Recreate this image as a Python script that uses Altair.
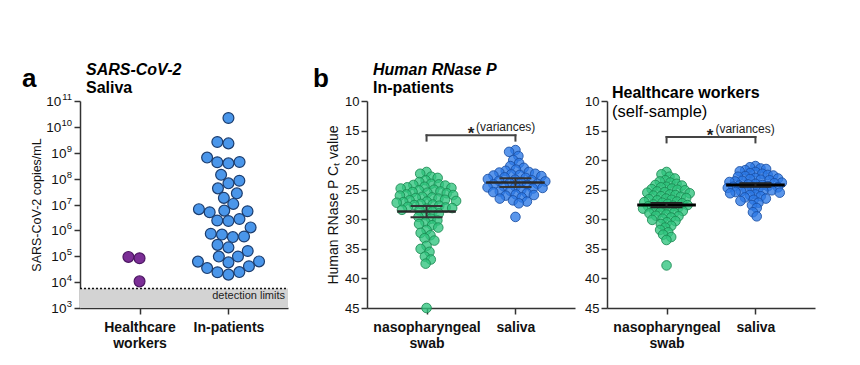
import math
import altair as alt
import pandas as pd

# ---------------- data ----------------
a_groups = ["Healthcare workers", "In-patients"]
a_hcw = [9.4e4, 8.4e4, 1.07e4]
a_inpatients = [2.2e10, 2.6e9, 2.3e9, 6.5e8, 4.4e8, 4.3e8, 3.9e8, 1.4e8, 8.3e7,
                6.6e7, 4.2e7, 2.7e7, 1.8e7, 1.05e7, 6.6e6, 5.8e6, 5.5e6, 5.0e6,
                2.75e6, 2.4e6, 2.3e6, 1.3e6, 7.4e5, 6.9e5, 5.8e5, 5.5e5, 2.75e5,
                2.2e5, 1.6e5, 9.8e4, 9.7e4, 6.3e4, 6.2e4, 5.8e4, 4.1e4, 3.5e4,
                2.45e4, 2.4e4, 1.95e4]
a_detection_limit = 5.7e3
a_label_pos = 2.8e3
a_exponents = [3, 4, 5, 6, 7, 8, 9, 10, 11]

b_categories = ["nasopharyngeal swab", "saliva"]
b_y_ticks = [10, 15, 20, 25, 30, 35, 40, 45]

b1_naso = [22.0, 22.3, 22.8, 23.0, 23.4, 23.7,
           24.0, 24.1, 24.2, 24.3, 24.5, 24.6, 24.7, 24.8, 25.0, 25.1, 25.3,
           25.4, 25.5, 25.6, 25.8, 25.9, 26.0, 26.2, 26.3, 26.4, 26.5, 26.7,
           26.8, 26.9, 27.0, 27.1, 27.2, 27.4, 27.5, 27.6, 27.7, 27.9, 28.0,
           28.1, 28.2, 28.4, 28.5,
           28.7, 29.0, 29.3, 29.6, 29.9, 30.2, 30.5, 30.8, 31.0,
           31.4, 31.8, 32.3, 32.7, 33.2, 33.6,
           34.5, 35.0, 35.5, 36.3, 36.8, 37.5,
           45.0]
b1_saliva = [18.3, 18.6, 19.3, 20.0, 20.5, 21.0, 21.3,
             21.6, 21.8, 22.0, 22.1, 22.3, 22.4, 22.5, 22.6, 22.7, 22.9, 23.0,
             23.2, 23.3, 23.4, 23.5, 23.6, 23.8, 23.9, 24.0, 24.1, 24.2, 24.4,
             24.5, 24.6, 24.7, 24.8, 25.0, 25.2, 25.3, 25.4, 25.6, 25.8, 25.9,
             26.0,
             26.3, 26.5, 26.8, 27.0, 27.3,
             29.6]
b1_mean = [28.7, 23.8]
b1_err = [0.95, 0.75]
b1_bracket = [15.8, 16.7]
b1_star = [1.5, 16.45]
b1_note = [1.556, 15.1]

b2_naso = [22.0, 22.4, 22.8, 23.1, 23.4, 23.6, 23.8, 24.0, 24.2, 24.3, 24.5,
           24.6, 24.8, 24.9, 25.0, 25.1, 25.3, 25.4, 25.5, 25.6, 25.8, 25.9,
           26.0, 26.1, 26.2, 26.4, 26.5, 26.6, 26.7, 26.8, 27.0, 27.1, 27.2,
           27.3, 27.4, 27.5, 27.6, 27.7, 27.8, 27.9, 28.0, 28.1, 28.2, 28.4,
           28.5, 28.6, 28.8, 28.9, 29.0, 29.2, 29.4, 29.5, 29.7, 29.9, 30.1,
           30.3, 30.5, 30.8, 31.1, 31.4, 31.8, 32.2, 32.6, 33.0, 33.5, 37.8]
b2_saliva = [21.0, 21.2, 21.4, 21.5, 21.7, 21.9, 22.0, 22.2, 22.3, 22.5, 22.6,
             22.7, 22.8, 23.0, 23.1, 23.2, 23.3, 23.4, 23.5, 23.6, 23.7, 23.8,
             23.9, 24.0, 24.1, 24.2, 24.3, 24.4, 24.5, 24.6, 24.7, 24.8, 24.9,
             25.0, 25.1, 25.2, 25.3, 25.4, 25.5, 25.6, 25.8, 25.9, 26.1, 26.3,
             26.5, 26.7, 26.9, 27.2, 27.6, 28.1, 28.8, 29.5]
b2_mean = [27.6, 24.2]
b2_err = [0.35, 0.3]
b2_bracket = [16.1, 17.0]
b2_star = [1.49, 16.8]
b2_note = [1.55, 15.45]

# ---------------- layout constants ----------------
W, H = 208, 207
X0, X1 = 0.33, 2.67
FONT = "Liberation Sans"
PX_X = W / (X1 - X0)


def swarm(values, px_per_y, dist, log=False):
    """Beeswarm offsets (x units) so that markers do not overlap more than dist."""
    ys = [(math.log10(v) if log else v) * px_per_y for v in values]
    order = sorted(range(len(values)), key=lambda i: ys[i])
    placed, offs = [], [0.0] * len(values)
    for i in order:
        y = ys[i]
        cands = [0.0]
        for (px, py) in placed:
            dy = abs(py - y)
            if dy < dist:
                dx = math.sqrt(dist * dist - dy * dy)
                cands.extend([px + dx, px - dx])
        cands.sort(key=lambda c: (round(abs(c), 6), c))
        chosen = 0.0
        for c in cands:
            if all((c - px) ** 2 + (y - py) ** 2 >= dist * dist - 1e-6 for px, py in placed):
                chosen = c
                break
        placed.append((chosen, y))
        offs[i] = chosen / PX_X
    return offs


def label_text(txt, x, y, size, weight="bold", style="normal"):
    return alt.Chart(pd.DataFrame({"t": [txt]})).mark_text(
        align="left", baseline="alphabetic", fontSize=size, fontWeight=weight, fontStyle=style,
        font=FONT, color="#000").encode(x=alt.value(x), y=alt.value(y), text="t:N")


x_scale = alt.Scale(domain=[X0, X1], nice=False, zero=False)

# ---------------- panel a ----------------
rows = []
for gi, (g, vals) in enumerate([(a_groups[0], a_hcw), (a_groups[1], a_inpatients)]):
    offs = swarm(vals, H / 8.0, 11.2, log=True)
    for v, o in zip(vals, offs):
        rows.append({"group": g, "value": v, "xpos": gi + 1 + o})
df_a = pd.DataFrame(rows)

ya_scale = alt.Scale(type="log", domain=[1e3, 1e11], nice=False)
xa_axis = alt.Axis(values=[1, 2], title=None, grid=False,
                   labelExpr="datum.value == 1 ? ['Healthcare', 'workers'] : 'In-patients'")
ya_axis = alt.Axis(values=[10.0 ** e for e in a_exponents], labels=False,
                   title="SARS-CoV-2 copies/mL", grid=False, titleFontSize=12.5, titlePadding=30)


def XA(f):
    return alt.X(f, type="quantitative", scale=x_scale, axis=xa_axis)


def YA(f):
    return alt.Y(f, type="quantitative", scale=ya_scale, axis=ya_axis)


band_a = alt.Chart(pd.DataFrame({"x": [X0], "x2": [X1], "y": [1e3], "y2": [a_detection_limit]})).mark_rect(
    color="#d3d3d3").encode(x=XA("x"), x2="x2", y=YA("y"), y2="y2")
rule_a = alt.Chart(pd.DataFrame({"x": [X0], "x2": [X1], "y": [a_detection_limit]})).mark_rule(
    color="#111", strokeDash=[2, 2], strokeWidth=1.6).encode(x=XA("x"), x2="x2", y=YA("y"))
text_a = alt.Chart(pd.DataFrame({"x": [X1], "y": [a_label_pos], "t": ["detection limits"]})).mark_text(
    align="right", baseline="middle", dx=-3, fontSize=11, color="#222", font=FONT).encode(
    x=XA("x"), y=YA("y"), text="t:N")
pts_a = alt.Chart(df_a).mark_circle(size=118, opacity=1, strokeWidth=1.2).encode(
    x=XA("xpos"), y=YA("value"),
    fill=alt.Fill("group:N", scale=alt.Scale(domain=a_groups, range=["#7b2e96", "#4a96ea"]), legend=None),
    stroke=alt.Stroke("group:N", scale=alt.Scale(domain=a_groups, range=["#4d1763", "#1c3d6e"]), legend=None),
)

# y tick labels of panel a drawn as "10" + raised exponent
df_exp = pd.DataFrame({"value": [10.0 ** e for e in a_exponents],
                       "exp": [str(e) for e in a_exponents],
                       "base": ["10"] * len(a_exponents),
                       "two": [e >= 10 for e in a_exponents]})
EXP_R = -8
exp_lbl = alt.Chart(df_exp).mark_text(
    align="right", baseline="middle", dy=-4, fontSize=9.5, font=FONT, color="#111").encode(
    x=alt.value(EXP_R), y=YA("value"), text="exp:N")
base1 = alt.Chart(df_exp).transform_filter("!datum.two").mark_text(
    align="right", baseline="middle", dy=1, fontSize=13.5, font=FONT, color="#111").encode(
    x=alt.value(EXP_R - 5.6), y=YA("value"), text="base:N")
base2 = alt.Chart(df_exp).transform_filter("datum.two").mark_text(
    align="right", baseline="middle", dy=1, fontSize=13.5, font=FONT, color="#111").encode(
    x=alt.value(EXP_R - 10.8), y=YA("value"), text="base:N")

panel_a = alt.layer(
    band_a, rule_a, text_a, pts_a, exp_lbl, base1, base2,
    label_text("a", -58, -14, 26),
    label_text("SARS-CoV-2", 6, -26, 16, style="italic"),
    label_text("Saliva", 6, -8, 16),
).properties(width=W, height=H)

# ---------------- panel b ----------------
yb_scale = alt.Scale(domain=[10, 45], reverse=True, nice=False, zero=False)
xb_axis = alt.Axis(values=[1, 2], title=None, grid=False,
                   labelExpr="datum.value == 1 ? ['nasopharyngeal', 'swab'] : 'saliva'")


def panel_b(naso, sal, means, errs, bracket, star, note, ytitle, dist,
            mean_color, mean_width, err_color, extra):
    yb_axis = alt.Axis(values=b_y_ticks, title=ytitle, grid=False, titleFontSize=14)

    def XB(f):
        return alt.X(f, type="quantitative", scale=x_scale, axis=xb_axis)

    def YB(f):
        return alt.Y(f, type="quantitative", scale=yb_scale, axis=yb_axis)

    rows = []
    for ci, vals in enumerate([naso, sal]):
        offs = swarm(vals, H / 35.0, dist)
        for v, o in zip(vals, offs):
            rows.append({"cat": b_categories[ci], "value": v, "xpos": ci + 1 + o})
    df = pd.DataFrame(rows)
    pts = alt.Chart(df).mark_circle(size=92, strokeWidth=1, fillOpacity=0.78, strokeOpacity=0.85).encode(
        x=XB("xpos"), y=YB("value"),
        fill=alt.Fill("cat:N", scale=alt.Scale(domain=b_categories, range=["#2fc47e", "#2c78e6"]), legend=None),
        stroke=alt.Stroke("cat:N", scale=alt.Scale(domain=b_categories, range=["#1b8a52", "#1a4fa3"]), legend=None),
    )
    dm = pd.DataFrame({"cat": [1, 2], "mean": means, "err": errs})
    dm["lo"] = dm["mean"] - dm["err"]
    dm["hi"] = dm["mean"] + dm["err"]
    dm["ml"] = dm["cat"] - 0.33
    dm["mr"] = dm["cat"] + 0.33
    dm["cl"] = dm["cat"] - 0.18
    dm["cr"] = dm["cat"] + 0.18
    mean_l = alt.Chart(dm).mark_rule(color=mean_color, strokeWidth=mean_width).encode(
        x=XB("ml"), x2="mr", y=YB("mean"))
    err_v = alt.Chart(dm).mark_rule(color=err_color, strokeWidth=2).encode(
        x=XB("cat"), y=YB("lo"), y2="hi")
    cap_lo = alt.Chart(dm).mark_rule(color=err_color, strokeWidth=2).encode(
        x=XB("cl"), x2="cr", y=YB("lo"))
    cap_hi = alt.Chart(dm).mark_rule(color=err_color, strokeWidth=2).encode(
        x=XB("cl"), x2="cr", y=YB("hi"))
    br = pd.DataFrame({"x": [1, 1, 2], "x2": [2, 1, 2],
                       "y": [bracket[0]] * 3, "y2": [bracket[0], bracket[1], bracket[1]]})
    brk = alt.Chart(br).mark_rule(color="#444", strokeWidth=2, strokeCap="square").encode(
        x=XB("x"), x2="x2", y=YB("y"), y2="y2")
    st = alt.Chart(pd.DataFrame({"x": [star[0]], "y": [star[1]], "t": ["*"]})).mark_text(
        align="center", baseline="alphabetic", fontSize=17, fontWeight="bold", font=FONT, color="#222").encode(
        x=XB("x"), y=YB("y"), text="t:N")
    nt = alt.Chart(pd.DataFrame({"x": [note[0]], "y": [note[1]], "t": ["(variances)"]})).mark_text(
        align="left", baseline="alphabetic", fontSize=12, font=FONT, color="#222").encode(
        x=XB("x"), y=YB("y"), text="t:N")
    layers = [pts, mean_l, err_v, cap_lo, cap_hi, brk, st, nt] + extra
    return alt.layer(*layers).properties(width=W, height=H)


panel_b1 = panel_b(b1_naso, b1_saliva, b1_mean, b1_err, b1_bracket, b1_star, b1_note,
                   "Human RNase P Cₜ value", 6.6, "#2a2a2a", 2.5, "#333",
                   [label_text("b", -54, -14, 26),
                    label_text("Human RNase P", 6, -26, 16, style="italic"),
                    label_text("In-patients", 6, -8, 16)])
panel_b2 = panel_b(b2_naso, b2_saliva, b2_mean, b2_err, b2_bracket, b2_star, b2_note,
                   None, 5.6, "#000", 3, "#222",
                   [label_text("Healthcare workers", 5, -3, 16),
                    label_text("(self-sample)", 5, 16, 16.5, weight="normal")])

chart = alt.hconcat(
    panel_a,
    alt.hconcat(panel_b1, panel_b2, spacing=32, bounds="flush").resolve_scale(
        fill="independent", stroke="independent"),
    spacing=79, bounds="flush",
).resolve_scale(
    fill="independent", stroke="independent"
).properties(
    padding={"left": 14, "top": 54, "right": 5, "bottom": 5},
    background="#ffffff",
).configure_view(stroke=None).configure_axis(
    domainColor="#333", domainWidth=1.5, tickColor="#333", tickWidth=1.5, tickSize=6,
    labelFont=FONT, labelFontSize=13, labelColor="#111", labelPadding=2,
    titleFont=FONT, titleFontSize=13, titleFontWeight="normal", titleColor="#111", titlePadding=4,
).configure_axisX(labelFontWeight="bold", labelFontSize=14, labelPadding=6, labelLineHeight=16)

chart.save("out.html", embed_options={"renderer": "svg", "actions": False})
